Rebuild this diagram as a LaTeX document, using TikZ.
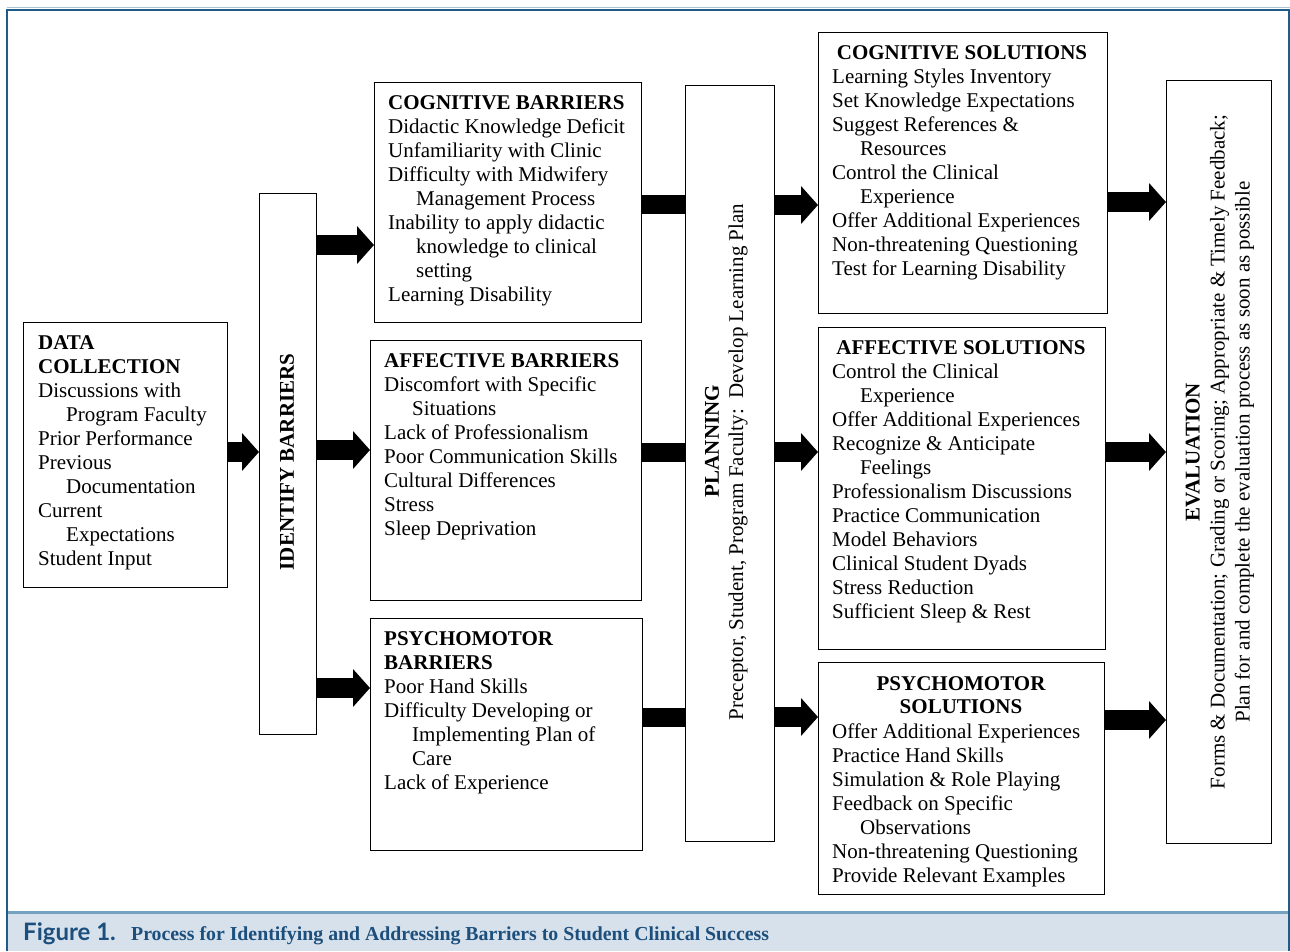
\documentclass[tikz,border=0pt]{standalone}
\usepackage{fontspec}
\setmainfont{Liberation Serif}
\newfontfamily\capsans{Lato}
\usetikzlibrary{arrows.meta}
\definecolor{frameblue}{HTML}{1F5C88}
\definecolor{lightline}{HTML}{A9C5DA}
\definecolor{bandline}{HTML}{76A1C0}
\definecolor{bandfill}{HTML}{D7E1EC}
\definecolor{captext}{HTML}{1C4F7C}
\newcommand{\ind}{\hspace*{28pt}}
\begin{document}
\begin{tikzpicture}[x=1pt,y=-1pt,
  box/.style={draw=black, line width=1.3pt, inner sep=0pt, anchor=north west},
  txt/.style={font=\fontsize{21}{24}\selectfont, align=left, anchor=base west, inner sep=0pt},
  hdr/.style={font=\fontsize{21}{23}\selectfont\bfseries, align=center, anchor=base, inner sep=0pt},
  rot/.style={font=\fontsize{21}{25}\selectfont, align=center, rotate=90, inner sep=0pt},
  fat/.style={line width=20pt, -{Triangle[length=17pt,width=37pt]}},
  bar/.style={line width=19pt},
]
\useasboundingbox (0,0) rectangle (1290,951);
% frame
\fill[bandfill] (7,913.5) rectangle (1290,951);
\draw[bandline, line width=2.2pt] (7,912.5) -- (1290,912.5);
\draw[lightline, line width=1.6pt] (7,7.3) -- (1290,7.3);
\draw[frameblue, line width=2.2pt] (7,951) -- (7,9.6) -- (1289,9.6) -- (1289,951);
\node[anchor=base west, text=captext, inner sep=0pt] (fig) at (23,940) {\capsans\bfseries\fontsize{24}{24}\selectfont Figure 1.};
\node[anchor=base west, text=captext, inner sep=0pt] (cap) at (131,940) {\bfseries\fontsize{19.8}{20}\selectfont Process for Identifying and Addressing Barriers to Student Clinical Success};

% boxes
\node[box, minimum width=204pt, minimum height=265pt] (dc) at (23,322) {};
\node[box, minimum width=57pt, minimum height=541pt] (ib) at (259,193) {};
\node[box, minimum width=267pt, minimum height=240pt] (cb) at (374,82) {};
\node[box, minimum width=271pt, minimum height=260pt] (ab) at (370,340) {};
\node[box, minimum width=272pt, minimum height=232pt] (pb) at (370,618) {};
\node[box, minimum width=89pt, minimum height=756pt] (pl) at (685,85) {};
\node[box, minimum width=289pt, minimum height=281pt] (cs) at (818,32) {};
\node[box, minimum width=287pt, minimum height=322pt] (as) at (818,327) {};
\node[box, minimum width=286pt, minimum height=232pt] (ps) at (818,662) {};
\node[box, minimum width=105pt, minimum height=763pt] (ev) at (1166,80) {};

% texts (anchor = baseline of last line)
\node[txt] (dct) at (38,565) {\textbf{DATA}\\\textbf{COLLECTION}\\Discussions with\\\ind Program Faculty\\Prior Performance\\Previous\\\ind Documentation\\Current\\\ind Expectations\\Student Input};
\node[rot, font=\fontsize{21}{25}\selectfont\bfseries] (ibt) at (287,462) {IDENTIFY BARRIERS};
\node[txt] (cbt) at (388,301) {\textbf{COGNITIVE BARRIERS}\\Didactic Knowledge Deficit\\Unfamiliarity with Clinic\\Difficulty with Midwifery\\\ind Management Process\\Inability to apply didactic\\\ind knowledge to clinical\\\ind setting\\Learning Disability};
\node[txt] (abt) at (384,535) {\textbf{AFFECTIVE BARRIERS}\\Discomfort with Specific\\\ind Situations\\Lack of Professionalism\\Poor Communication Skills\\Cultural Differences\\Stress\\Sleep Deprivation};
\node[txt] (pbt) at (384,789) {\textbf{PSYCHOMOTOR}\\\textbf{BARRIERS}\\Poor Hand Skills\\Difficulty Developing or\\\ind Implementing Plan of\\\ind Care\\Lack of Experience};
\node[rot, font=\fontsize{21}{25}\selectfont\bfseries] (plh) at (712,441) {PLANNING};
\node[rot] (plt) at (738,462) {Preceptor, Student, Program Faculty:\ \ Develop Learning Plan};
\node[hdr] (csh) at (962,59) {COGNITIVE SOLUTIONS};
\node[txt] (cst) at (832,275) {Learning Styles Inventory\\Set Knowledge Expectations\\Suggest References \&\\\ind Resources\\Control the Clinical\\\ind Experience\\Offer Additional Experiences\\Non-threatening Questioning\\Test for Learning Disability};
\node[hdr] (ash) at (961,354) {AFFECTIVE SOLUTIONS};
\node[txt] (ast) at (832,618) {Control the Clinical\\\ind Experience\\Offer Additional Experiences\\Recognize \& Anticipate\\\ind Feelings\\Professionalism Discussions\\Practice Communication\\Model Behaviors\\Clinical Student Dyads\\Stress Reduction\\Sufficient Sleep \& Rest};
\node[hdr] (psh) at (961,713) {PSYCHOMOTOR\\SOLUTIONS};
\node[txt] (pst) at (832,882) {Offer Additional Experiences\\Practice Hand Skills\\Simulation \& Role Playing\\Feedback on Specific\\\ind Observations\\Non-threatening Questioning\\Provide Relevant Examples};
\node[rot] (evt) at (1220,452) {\textbf{EVALUATION}\\Forms \& Documentation; Grading or Scoring; Appropriate \& Timely Feedback;\\Plan for and complete the evaluation process as soon as possible};

% connectors
\draw[fat] (dc.east |- 0,452) -- (ib.west |- 0,452);
\draw[fat] (ib.east |- 0,245) -- (cb.west |- 0,245);
\draw[fat] (ib.east |- 0,450) -- (ab.west |- 0,450);
\draw[fat] (ib.east |- 0,688) -- (pb.west |- 0,688);
\draw[bar] (cb.east |- 0,204) -- (pl.west |- 0,204);
\draw[bar] (ab.east |- 0,452) -- (pl.west |- 0,452);
\draw[bar] (pb.east |- 0,717) -- (pl.west |- 0,717);
\draw[fat] (pl.east |- 0,205) -- (cs.west |- 0,205);
\draw[fat] (pl.east |- 0,452) -- (as.west |- 0,452);
\draw[fat] (pl.east |- 0,717) -- (ps.west |- 0,717);
\draw[fat] (cs.east |- 0,202) -- (ev.west |- 0,202);
\draw[fat] (as.east |- 0,452) -- (ev.west |- 0,452);
\draw[fat] (ps.east |- 0,720) -- (ev.west |- 0,720);
\end{tikzpicture}
\end{document}
